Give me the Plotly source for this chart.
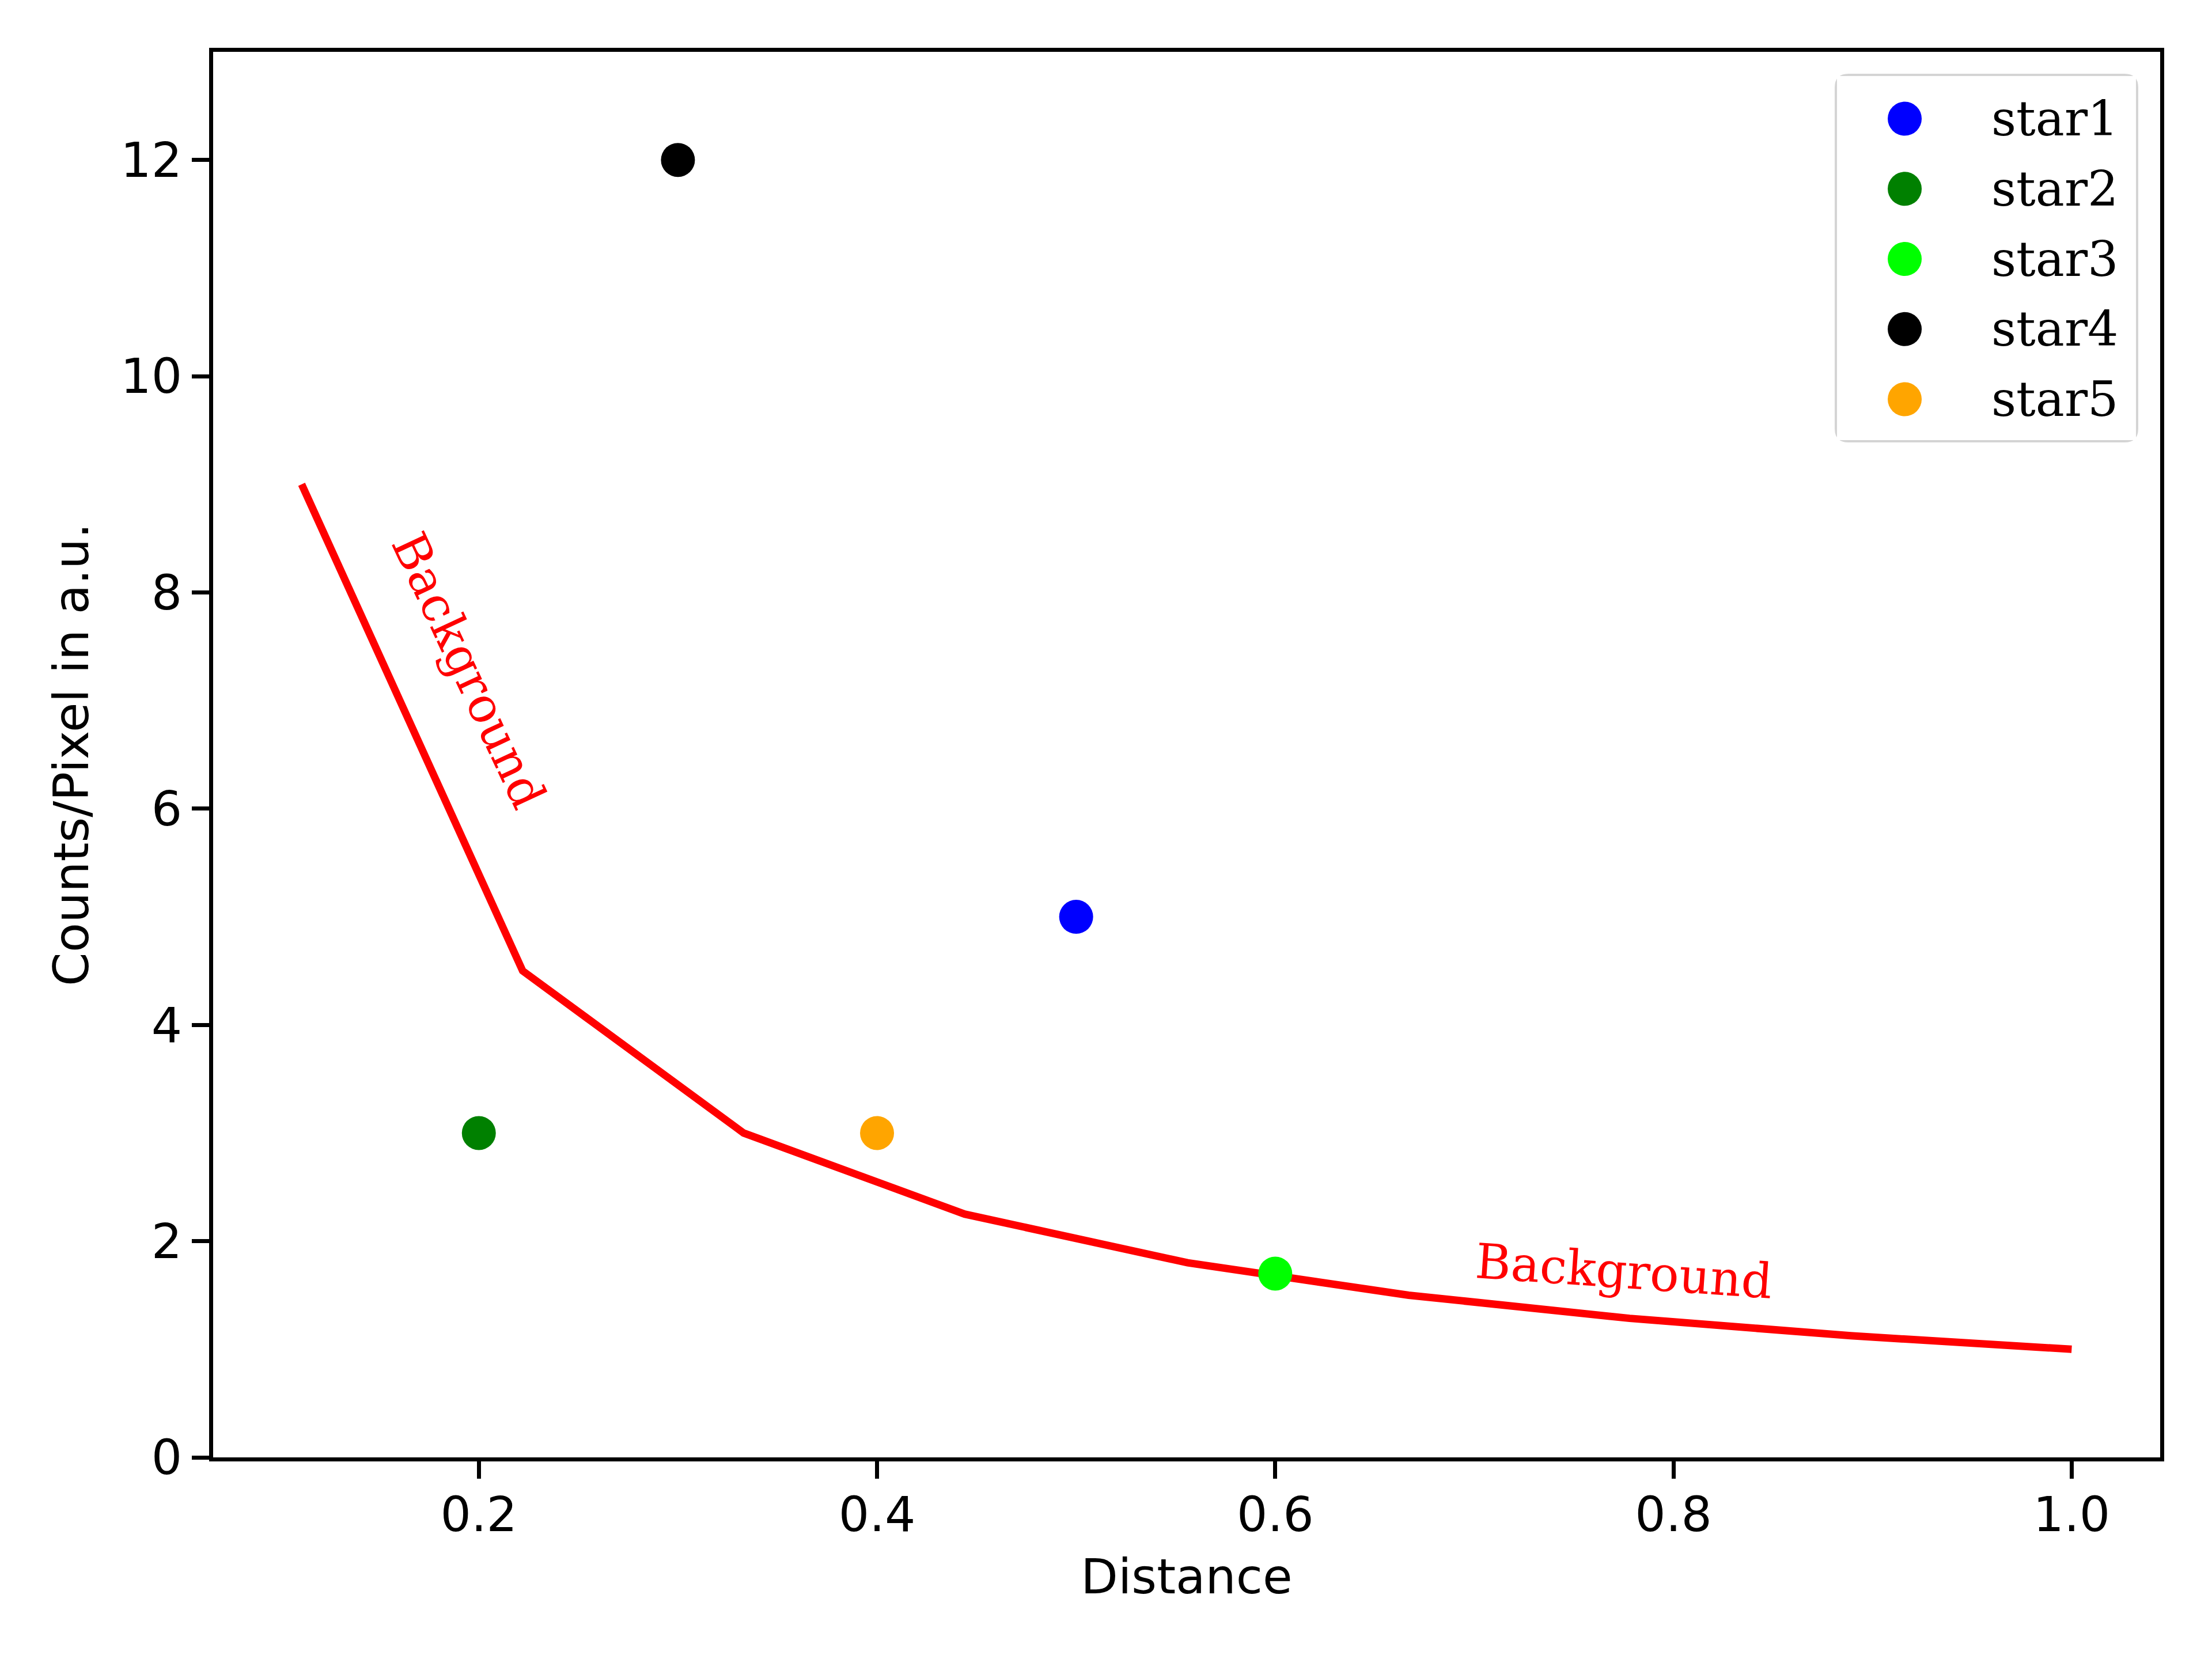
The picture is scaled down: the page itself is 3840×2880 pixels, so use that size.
import plotly.graph_objects as go

# ---------------- data ----------------
bg_x = [0.111, 0.222, 0.333, 0.444, 0.556, 0.667, 0.778, 0.889, 1.0]
bg_y = [9.0, 4.5, 3.0, 2.25, 1.8, 1.5, 1.286, 1.125, 1.0]

star_names = ["star1", "star2", "star3", "star4", "star5"]
star_x = [0.5, 0.2, 0.6, 0.3, 0.4]
star_y = [5.0, 3.0, 1.7, 12.0, 3.0]
star_colors = ["#0000ff", "#008000", "#00ff00", "#000000", "#ffa500"]

x_ticks = [0.2, 0.4, 0.6, 0.8, 1.0]
x_ticklabels = ["0.2", "0.4", "0.6", "0.8", "1.0"]
y_ticks = [0, 2, 4, 6, 8, 10, 12]
y_ticklabels = ["0", "2", "4", "6", "8", "10", "12"]

label_text = "Background"

# ---------------- layout constants ----------------
W, H = 3840, 2880
OFF = 8  # default page body margin of the browser
ML, MR, MT, MB = 370 - OFF, 90 + OFF, 90 - OFF, 350 + OFF
SANS = "DejaVu Sans"
SERIF = "DejaVu Serif"
FS = 84
MARKER = 59

xmin, xmax = min(bg_x), max(bg_x)
xpad = 0.05 * (xmax - xmin)
x_range = [xmin - xpad, xmax + xpad]
y_range = [0, 13]

fig = go.Figure()

# background curve
fig.add_trace(go.Scatter(
    x=bg_x, y=bg_y, mode="lines",
    line=dict(color="#ff0000", width=13),
    showlegend=False, hoverinfo="skip",
))

# stars
for name, sx, sy, c in zip(star_names, star_x, star_y, star_colors):
    fig.add_trace(go.Scatter(
        x=[sx], y=[sy], mode="markers", name=name,
        marker=dict(color=c, size=MARKER, line=dict(width=0)),
        showlegend=False,
    ))

# ---- legend drawn as a small overlay subplot ----
plot_w = W - ML - MR
plot_h = H - MT - MB
leg_left, leg_right, leg_top, leg_bottom = 3189, 3708, 132, 764
leg_xdom = [(leg_left - 370) / plot_w, (leg_right - 370) / plot_w]
leg_ydom = [(2530 - leg_bottom) / plot_h, (2530 - leg_top) / plot_h]

fig.add_trace(go.Scatter(
    x=[0.2265] * len(star_names), y=star_names,
    xaxis="x2", yaxis="y2", mode="markers",
    marker=dict(color=star_colors, size=MARKER, line=dict(width=0)),
    showlegend=False, hoverinfo="skip",
))

annotations = []
for name in star_names:
    annotations.append(dict(
        text=name, xref="x2 domain", yref="y2", x=0.512, y=name,
        xanchor="left", yanchor="middle", showarrow=False,
        font=dict(family=SERIF, size=FS, color="black"),
    ))

# background labels
annotations.append(dict(
    text=label_text, xref="x", yref="y", x=0.195, y=7.28,
    xanchor="center", yanchor="middle", showarrow=False, textangle=65,
    font=dict(family=SERIF, size=FS, color="#ff0000"),
))
annotations.append(dict(
    text=label_text, xref="x", yref="y", x=0.775, y=1.72,
    xanchor="center", yanchor="middle", showarrow=False, textangle=4,
    font=dict(family=SERIF, size=FS, color="#ff0000"),
))

# rounded legend frame
pw = leg_right - leg_left
ph = leg_bottom - leg_top
rx, ry = 20 / pw, 20 / ph
path = (f"M {rx},0 L {1-rx},0 Q 1,0 1,{ry} L 1,{1-ry} Q 1,1 {1-rx},1 "
        f"L {rx},1 Q 0,1 0,{1-ry} L 0,{ry} Q 0,0 {rx},0 Z")
shapes = [dict(
    type="path", path=path, xref="x2 domain", yref="y2 domain",
    line=dict(color="#d4d4d4", width=8), fillcolor="white", layer="below",
)]

axis_common = dict(
    showline=True, mirror=True, linecolor="black", linewidth=7,
    ticks="outside", ticklen=30, tickwidth=7, tickcolor="black",
    showgrid=False, zeroline=False,
    tickfont=dict(family=SANS, size=FS, color="black"),
)

fig.update_layout(
    width=W, height=H,
    margin=dict(l=ML, r=MR, t=MT, b=MB, pad=0),
    paper_bgcolor="white", plot_bgcolor="white",
    font=dict(family=SANS, size=FS, color="black"),
    showlegend=False,
    xaxis=dict(
        range=x_range, tickvals=x_ticks, ticktext=x_ticklabels,
        ticklabelstandoff=-10,
        title=dict(text="Distance", standoff=33,
                   font=dict(family=SANS, size=FS, color="black")),
        automargin=False, **axis_common,
    ),
    yaxis=dict(
        range=y_range, tickvals=y_ticks, ticktext=y_ticklabels,
        title=dict(text="Counts/Pixel in a.u.", standoff=30,
                   font=dict(family=SANS, size=FS, color="black")),
        automargin=False, **axis_common,
    ),
    xaxis2=dict(domain=leg_xdom, range=[0, 1], anchor="y2", visible=False,
                fixedrange=True),
    yaxis2=dict(domain=leg_ydom, anchor="x2", type="category",
                categoryorder="array", categoryarray=star_names[::-1],
                range=[-0.583, 4.608], visible=False, fixedrange=True),
    annotations=annotations,
    shapes=shapes,
)

fig.write_html("out.html")
